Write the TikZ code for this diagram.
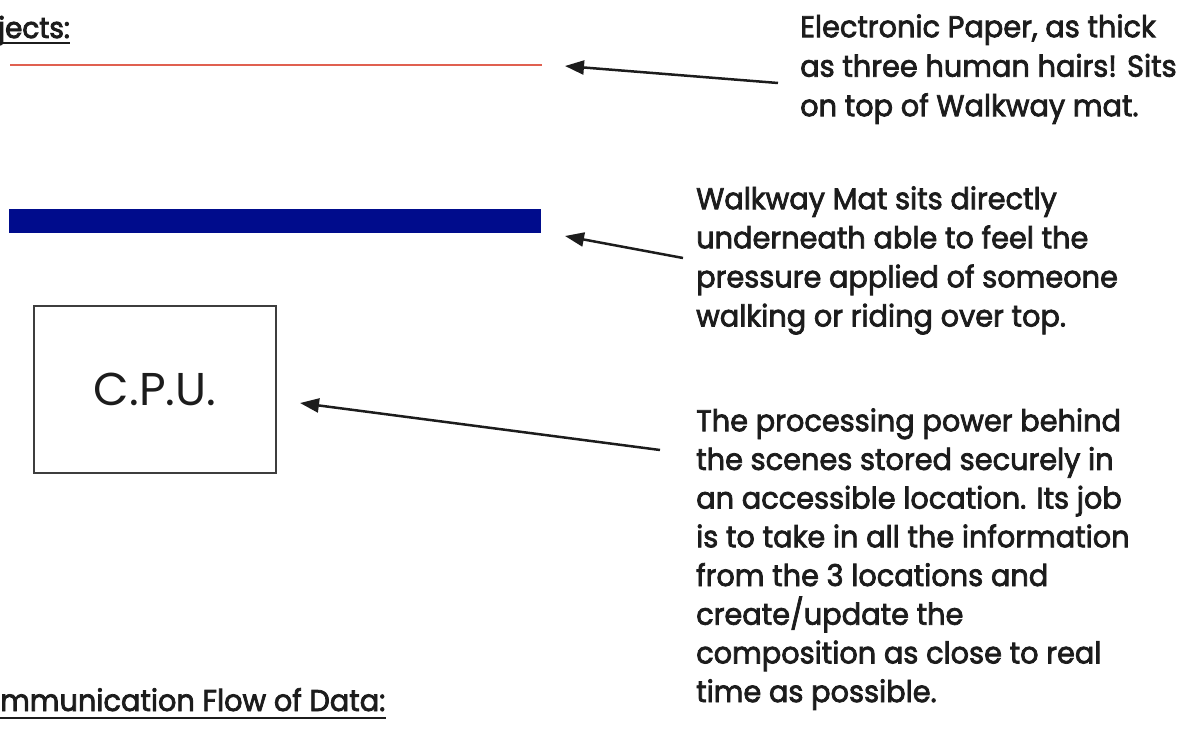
\documentclass[tikz,border=0pt]{standalone}
\usepackage{fontspec}
\setmainfont{Poppins}
\newfontfamily\bodyfont{Poppins}[FakeBold=2.5, FakeStretch=0.96]
\newfontfamily\headfont{Poppins}[FakeBold=3, FakeStretch=0.96]
\usetikzlibrary{arrows.meta,calc}
\definecolor{ink}{HTML}{1C1C1C}
\definecolor{paperred}{HTML}{E06050}
\definecolor{matblue}{HTML}{000C8C}
\begin{document}
\begin{tikzpicture}[x=1pt,y=-1pt,
  bodytext/.style={font=\bodyfont\fontsize{30}{39.5}\selectfont, anchor=north west, inner sep=0pt, align=left, text=ink},
  bodytextb/.style={bodytext, font=\bodyfont\fontsize{30}{39.1}\selectfont},
  bodytextc/.style={bodytext, font=\bodyfont\fontsize{30}{38.7}\selectfont},
  heading/.style={anchor=base west, inner sep=0pt, text=ink},
  arr/.style={-{Triangle[length=19pt,width=14pt]}, line width=2.5pt, draw=ink},
  uline/.style={line width=2pt, draw=ink}]
\useasboundingbox (0,0) rectangle (1187,730);
\clip (0,0) rectangle (1187,730);

% headings
\node[heading, font=\headfont\fontsize{29}{32}\selectfont] (h1) at (-2,38) {jects:};
\draw[uline] ($(h1.base west)+(0,5)$) -- ($(h1.base east)+(0,5)$);
\node[heading, font=\bodyfont\fontsize{30}{34}\selectfont] (h2) at (0,711) {mmunication Flow of Data:};
\draw[uline] ($(h2.base west)+(0,7)$) -- ($(h2.base east)+(0,7)$);

% objects
\node[fill=paperred, inner sep=0pt, minimum width=532pt, minimum height=2pt, anchor=west] (paper) at (10,65.5) {};
\node[fill=matblue, inner sep=0pt, minimum width=532pt, minimum height=24pt, anchor=west] (mat) at (9,221) {};
\node[draw=ink!85, line width=2pt, inner sep=0pt, minimum width=242pt, minimum height=167pt,
      font=\fontsize{46}{50}\selectfont, text=ink] (cpu) at (155,389.5) {C.P.U.};

% descriptions
\node[bodytext] (t1) at (800,9) {\rule{0pt}{28pt}Electronic Paper, as thick\\as three human hairs! Sits\\on top of Walkway mat.};
\node[bodytextb] (t2) at (696,181) {\rule{0pt}{28pt}Walkway Mat sits directly\\underneath able to feel the\\pressure applied of someone\\walking or riding over top.};
\node[bodytextc] (t3) at (696,403) {\rule{0pt}{28pt}The processing power behind\\the scenes stored securely in\\an accessible location. Its job\\is to take in all the information\\from the 3 locations and\\create/update the\\composition as close to real\\time as possible.};

% arrow ends
\coordinate (a1s) at (778,83);
\coordinate (a1e) at (565,66);
\coordinate (a2s) at (683,258);
\coordinate (a2e) at (565,236);
\coordinate (a3s) at (660,450);
\coordinate (a3e) at (300,403);
\draw[arr] (a1s) -- (a1e);
\draw[arr] (a2s) -- (a2e);
\draw[arr] (a3s) -- (a3e);
\end{tikzpicture}
\end{document}
